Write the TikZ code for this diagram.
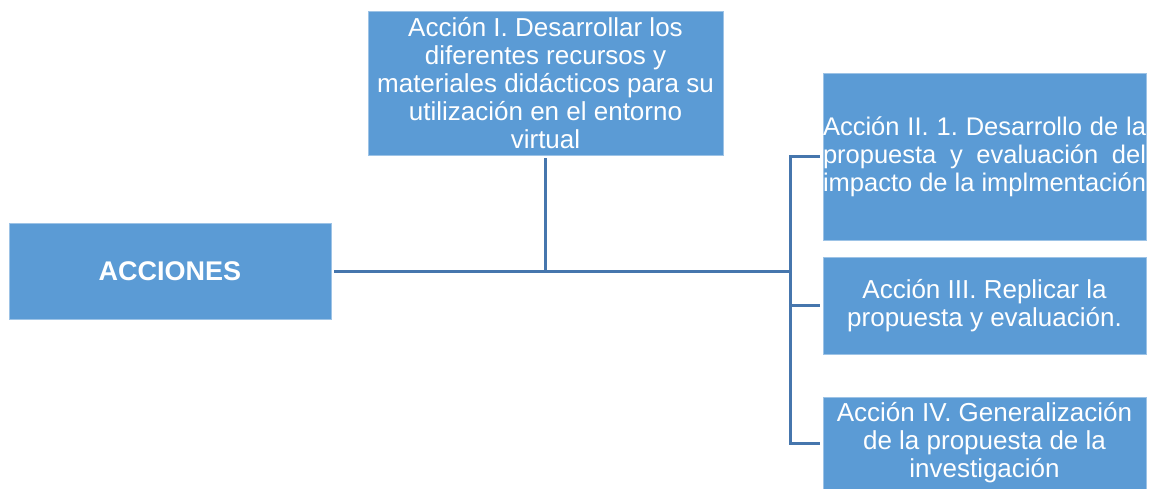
\documentclass[tikz,border=0pt]{standalone}
\usepackage{fontspec}
\setmainfont{Liberation Sans}
\usepackage{xcolor}
\frenchspacing
\definecolor{boxblue}{HTML}{5B9BD5}
\definecolor{boxedge}{HTML}{9DC3E6}
\definecolor{linkblue}{HTML}{4676AD}
\tikzset{
    box/.style={fill=boxblue, draw=boxedge, line width=0.8pt, text=white, inner sep=0pt,
                font=\fontsize{26}{28}\selectfont},
    link/.style={linkblue, line width=3pt, shorten <=3pt, shorten >=3pt}
}

\begin{document}
\begin{tikzpicture}[x=1pt,y=-1pt]
                                \useasboundingbox (0,0) rectangle (1150,489);

                                \node[box, minimum width=322pt, minimum height=96pt, font=\fontsize{27}{28}\selectfont\bfseries] (acciones) at (170,271) {ACCIONES};
                                \node[box, minimum width=355pt, minimum height=144pt, align=center] (accI) at (545.5,83)
                                    {Acción I. Desarrollar los\\diferentes recursos y\\materiales didácticos para su\\utilización en el entorno\\virtual};

                                \node[box, text width=323pt, minimum height=167pt, align=justify, font=\fontsize{25.5}{28}\selectfont\frenchspacing] (accII) at (984.5,156.5)
                                    {Acción II. 1. Desarrollo de la propuesta y evaluación del impacto de la implmentación};
                                \node[box, minimum width=323pt, minimum height=97pt, align=center] (accIII) at (984.5,305.5)
                                    {Acción III. Replicar la\\propuesta y evaluación.};
                                \node[box, minimum width=323pt, minimum height=92pt, align=center] (accIV) at (984.5,443)
                                    {Acción IV. Generalización\\de la propuesta de la\\investigación};

                                \coordinate (trunk) at (790,271);

                                \draw[link, shorten >=0pt] (acciones.east) -- (acciones.east -| trunk);
                                \draw[link, shorten >=0pt] (accI.south) -- (accI.south |- acciones.east);
                                \draw[link] (accII.west) -- (accII.west -| trunk) |- (accIV.west);
                                \draw[link, shorten >=0pt] (accIII.west) -- (accIII.west -| trunk);
                            \end{tikzpicture}
\end{document}
